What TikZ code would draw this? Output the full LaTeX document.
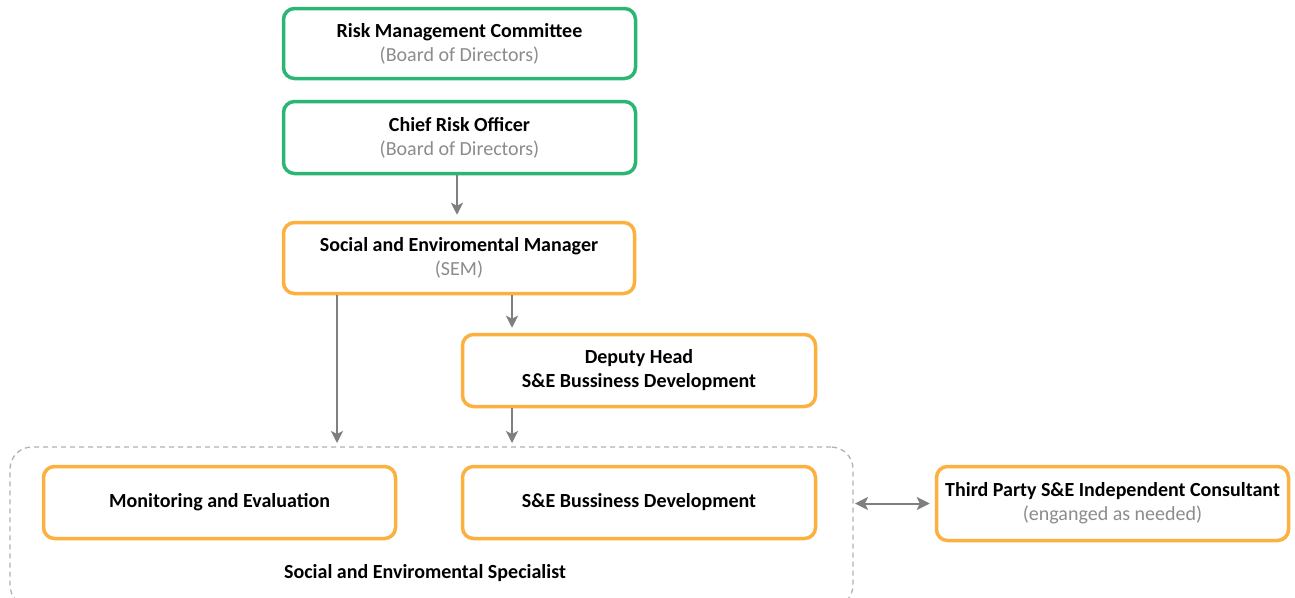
\documentclass[tikz,border=0pt]{standalone}
\usepackage{fontspec}
\setmainfont{Carlito}
\usetikzlibrary{arrows.meta,calc}
\definecolor{grn}{HTML}{2BB673}
\definecolor{org}{HTML}{FBB040}
\definecolor{arr}{HTML}{7F7F7F}
\definecolor{sub}{HTML}{8C8C8C}
\tikzset{
  box/.style={draw, line width=3.5pt, rounded corners=11pt, fill=white, align=center, inner sep=0pt, font=\fontsize{20}{24}\selectfont},
  gbox/.style={box, draw=grn},
  obox/.style={box, draw=org},
  conn/.style={draw=arr, line width=2pt, -{Stealth[length=12pt,width=12pt,inset=3pt]}},
  dconn/.style={draw=arr, line width=2pt, {Stealth[length=13pt,width=13pt,inset=3pt]}-{Stealth[length=13pt,width=13pt,inset=3pt]}},
}
\newcommand{\ttl}[1]{\textbf{#1}}
\newcommand{\subt}[1]{\textcolor{sub}{#1}}
\begin{document}
\begin{tikzpicture}[x=1pt,y=-1pt]
\useasboundingbox (0,0) rectangle (1295,597);
\fill[white] (0,0) rectangle (1295,597);
\begin{scope}
\clip (0,0) rectangle (1295,597);
\node[draw=gray!60, dashed, line width=1.3pt, dash pattern=on 5pt off 4pt, rounded corners=22pt, minimum width=843pt, minimum height=160pt, inner sep=0pt] (spec) at (431.5,527) {};
\end{scope}
\coordinate (spectop) at (431.5,447);
\node[gbox, minimum width=352pt, minimum height=70pt] (rmc) at (459.5,43.5) {\ttl{Risk Management Committee}\\\subt{(Board of Directors)}};
\node[gbox, minimum width=352pt, minimum height=72pt] (cro) at (459.5,137.5) {\ttl{Chief Risk Officer}\\\subt{(Board of Directors)}};
\node[obox, minimum width=351pt, minimum height=71pt] (sem) at (459,258) {\ttl{Social and Enviromental Manager}\\\subt{(SEM)}};
\node[obox, minimum width=353pt, minimum height=72pt] (dep) at (639,370.5) {\ttl{Deputy Head}\\\ttl{S\&E Bussiness Development}};
\node[obox, minimum width=352pt, minimum height=72pt] (me) at (219.5,502.5) {\ttl{Monitoring and Evaluation}};
\node[obox, minimum width=353pt, minimum height=72pt] (bd) at (639,502.5) {\ttl{S\&E Bussiness Development}};
\node[obox, minimum width=352pt, minimum height=74pt] (tp) at (1112.5,503.5) {\ttl{Third Party S\&E Independent Consultant}\\\subt{(enganged as needed)}};
\node[font=\fontsize{20}{24}\selectfont\bfseries] (speclabel) at (425,573) {Social and Enviromental Specialist};
\coordinate (semL) at ($(sem.south)+(-122,0)$);
\coordinate (semR) at ($(sem.south)+(53,0)$);
\coordinate (depL) at ($(dep.south)+(-127,0)$);
\draw[conn] ($(cro.south)+(-2.5,0)$) -- ($(sem.north)+(-2,-6)$);
\draw[conn] (semR) -- ($(semR |- dep.north)+(0,-5)$);
\draw[conn] (semL) -- ($(semL |- spectop)+(0,-4)$);
\draw[conn] (depL) -- ($(depL |- spectop)+(0,-4)$);
\coordinate (dl) at (855,503.5);
\draw[dconn] (dl) -- ($(tp.west)+(-5,0)$);
\end{tikzpicture}
\end{document}
